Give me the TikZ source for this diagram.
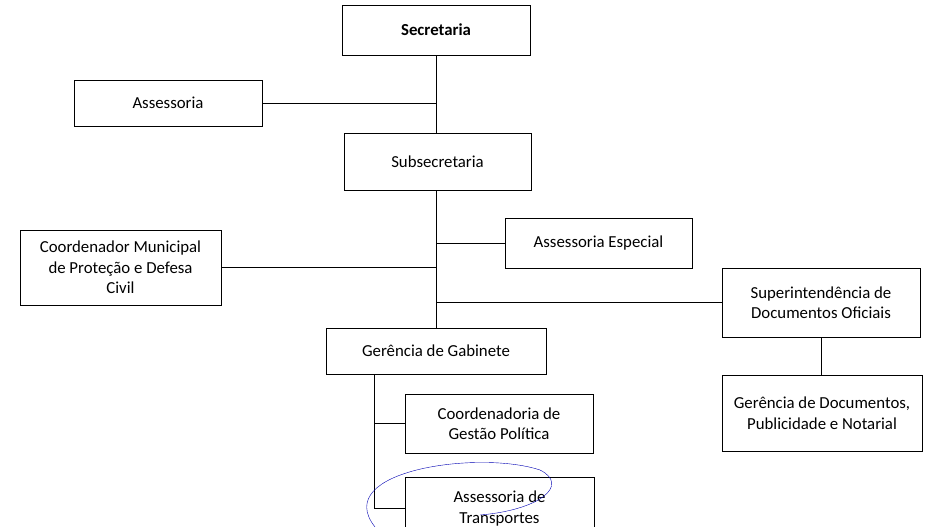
\documentclass[tikz,border=0pt]{standalone}
\usepackage{fontspec}
\setmainfont{Carlito}
\usetikzlibrary{positioning}

\begin{document}
\begin{tikzpicture}[x=1pt,y=-1pt,
                    box/.style={draw, thick, align=center, inner sep=0pt,
                                font=\fontsize{16.8}{20.5}\selectfont},
                    link/.style={thick}]
\useasboundingbox (0,0) rectangle (927,527);
\begin{scope}
\clip (0,0) rectangle (927,527);
\node[box, minimum width=188, minimum height=50, font=\fontsize{16.8}{20.5}\selectfont\bfseries] (sec) at (436,30) {Secretaria};
\node[box, minimum width=188, minimum height=46] (ass) at (168,103) {Assessoria};
\node[box, minimum width=187, minimum height=57] (sub) at (437.5,161.5) {Subsecretaria};
\node[box, minimum width=187, minimum height=50] (esp) at (598.5,243) {Assessoria Especial};
\node[box, minimum width=201, minimum height=75] (civ) at (120.5,267.5) {Coordenador Municipal\\de Proteção e Defesa\\Civil};
\node[box, minimum width=198, minimum height=69] (sup) at (821,302.5) {Superintendência de\\Documentos Oficiais};
\node[box, minimum width=220, minimum height=46] (gab) at (436,351) {Gerência de Gabinete};
\node[box, minimum width=200, minimum height=76] (doc) at (822,413) {Gerência de Documentos,\\Publicidade e Notarial};
\node[box, minimum width=188, minimum height=59] (pol) at (499,423.5) {Coordenadoria de\\Gestão Política};
\node[box, minimum width=189, minimum height=63] (tra) at (499.5,508.5) {Assessoria de\\Transportes};
\end{scope}
% ligações
\coordinate (trunk) at (436,0);
\draw[link] (sec.south) -- (trunk |- sub.north);
\draw[link] (ass.east) -- (trunk |- ass.east);
\draw[link] (trunk |- sub.south) -- (trunk |- gab.north);
\draw[link] (esp.west) -- (trunk |- esp.west);
\draw[link] (civ.east) -- (trunk |- civ.east);
\draw[link] (sup.west) -- (trunk |- sup.west);
\draw[link] (sup.south) -- (sup.south |- doc.north);
\draw[link] (374,374) coordinate (g) -- (g |- tra.west) -- (tra.west);
\draw[link] (g |- pol.west) -- (pol.west);
% marca manuscrita
\draw[blue!70!black, thin] (375,527) .. controls (330,470) and (480,450) .. (540,470)
  .. controls (570,485) and (540,510) .. (480,515);
\end{tikzpicture}
\end{document}
